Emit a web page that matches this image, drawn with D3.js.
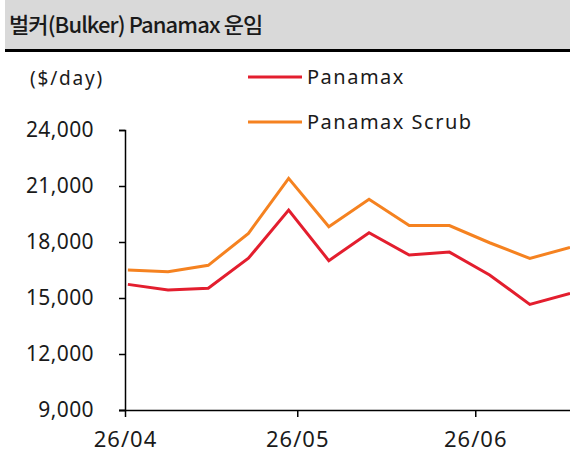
<!DOCTYPE html>
<html>
  <head>
    <meta charset="UTF-8" />
    <title>벌커(Bulker) Panamax 운임</title>
    <script src="https://d3js.org/d3.v7.min.js"></script>
    <style>
      body { margin: 0; background: #fff; }
      svg text { fill: #1a1a1a; }
    </style>
  </head>
  <body>
    <div id="chart"></div>
    <script>
      // 주간 데이터 (26년 4월 ~ 6월)
      var dates = [
        "2026-04-01", "2026-04-08", "2026-04-15", "2026-04-22",
        "2026-04-29", "2026-05-06", "2026-05-13", "2026-05-20",
        "2026-05-27", "2026-06-03", "2026-06-10", "2026-06-17"
      ];
      var panamax = [15730, 15430, 15520, 17130, 19710, 17000, 18500, 17300, 17460, 16230, 14660, 15250];
      var panamaxScrub = [16500, 16410, 16750, 18460, 21410, 18820, 20290, 18880, 18880, 17960, 17120, 17710];
      var seriesNames = ["Panamax", "Panamax Scrub"];
      var yTicks = [9000, 12000, 15000, 18000, 21000, 24000];
      var xTickDates = ["2026-04-01", "2026-05-01", "2026-06-01"];

      var W = 570, H = 467;
      var colors = ["#e31e2e", "#f58220"];
      var latin = "'Noto Sans', 'DejaVu Sans', sans-serif";

      var svg = d3.select("#chart").append("svg")
        .attr("width", W).attr("height", H);

      // 제목 영역
      svg.append("rect").attr("x", 5).attr("y", 0)
        .attr("width", W - 5).attr("height", 49).attr("fill", "#d9d9d9");
      svg.append("rect").attr("x", 5).attr("y", 49)
        .attr("width", W - 5).attr("height", 3).attr("fill", "#000");
      svg.append("text").attr("x", 9).attr("y", 33)
        .style("font-family", "'Noto Sans CJK KR', sans-serif")
        .style("font-size", "22px").style("font-weight", 500)
        .style("letter-spacing", "-0.9px")
        .text("벌커(Bulker) Panamax 운임");

      var parse = d3.timeParse("%Y-%m-%d");
      var data = dates.map((d, i) => ({
        date: d3.timeHour.offset(parse(d), 12),
        a: panamax[i],
        b: panamaxScrub[i]
      }));

      var x = d3.scaleTime()
        .domain([parse("2026-04-01"), d3.timeHour.offset(parse("2026-06-17"), 12)])
        .range([125, 570]);
      var y = d3.scaleLinear().domain([9000, 24000]).range([410, 130]);

      // 축
      var yAxis = svg.append("g").attr("transform", "translate(125,0)")
        .call(d3.axisLeft(y).tickValues(yTicks).tickSize(6).tickPadding(25)
          .tickFormat(d3.format(",")));
      var xAxis = svg.append("g").attr("transform", "translate(0,410)")
        .call(d3.axisBottom(x).tickValues(xTickDates.map(parse)).tickSize(7)
          .tickPadding(14).tickFormat(d3.timeFormat("%y/%m")));
      [yAxis, xAxis].forEach((g) => {
        g.select(".domain").attr("stroke", "#000").attr("stroke-width", 1.5);
        g.selectAll(".tick line").attr("stroke", "#000").attr("stroke-width", 1.5);
        g.selectAll("text").style("font-family", latin)
          .style("font-size", "21px").style("letter-spacing", "0.4px")
          .attr("fill", "#1a1a1a");
      });
      xAxis.selectAll("text").style("font-size", "22px").style("letter-spacing", "1px");
      xAxis.select(".domain").attr("d", "M119,0.5H570");

      // 선
      var lineA = d3.line().x((d) => x(d.date)).y((d) => y(d.a));
      var lineB = d3.line().x((d) => x(d.date)).y((d) => y(d.b));
      svg.append("path").datum(data).attr("d", lineB)
        .attr("fill", "none").attr("stroke", colors[1]).attr("stroke-width", 3);
      svg.append("path").datum(data).attr("d", lineA)
        .attr("fill", "none").attr("stroke", colors[0]).attr("stroke-width", 3);

      // 단위
      svg.append("text").attr("x", 30).attr("y", 85)
        .style("font-family", latin).style("font-size", "19px")
        .style("letter-spacing", "1.8px").text("($/day)");

      // 범례
      var legend = svg.append("g");
      seriesNames.forEach((name, i) => {
        var ly = 77 + i * 45;
        legend.append("line").attr("x1", 248).attr("x2", 302)
          .attr("y1", ly).attr("y2", ly)
          .attr("stroke", colors[i]).attr("stroke-width", 3);
        legend.append("text").attr("x", 307).attr("y", ly + 7)
          .style("font-family", latin).style("font-size", "20px")
          .style("letter-spacing", "1.5px").text(name);
      });
    </script>
  </body>
</html>
